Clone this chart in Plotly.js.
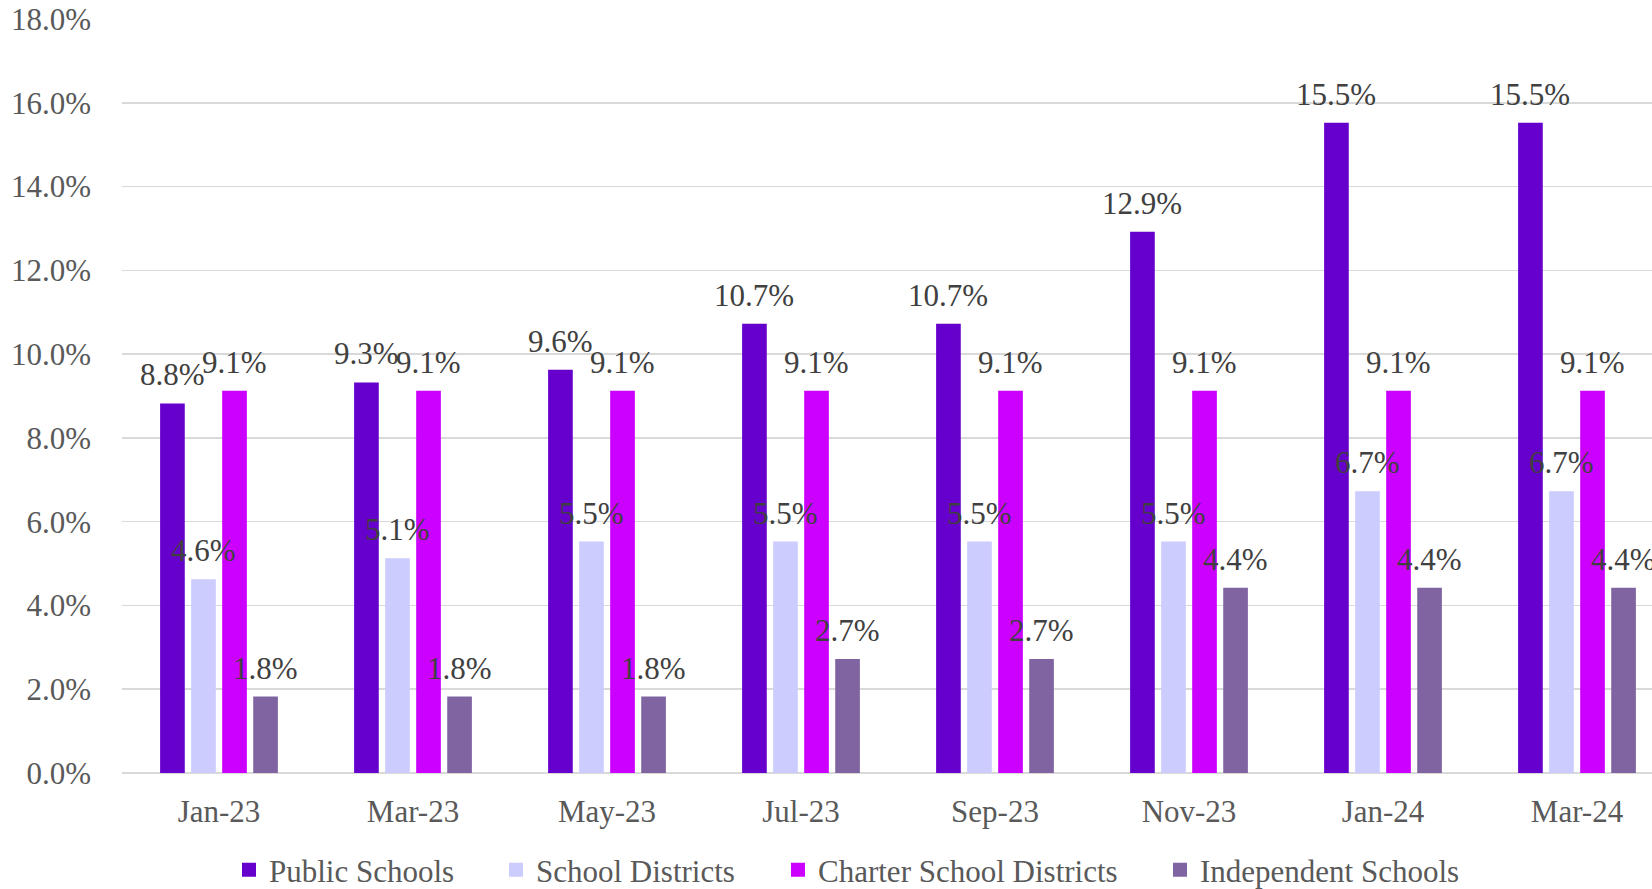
<!DOCTYPE html>
<html>
<head>
<meta charset="utf-8">
<script src="https://cdn.plot.ly/plotly-3.0.1.min.js"></script>
<style>html,body{margin:0;padding:0;background:#fff;}#chart{width:1652px;height:889px;}</style>
</head>
<body>
<div id="chart"></div>
<script>
const categories = ["Jan-23","Mar-23","May-23","Jul-23","Sep-23","Nov-23","Jan-24","Mar-24"];
const seriesNames = ["Public Schools","School Districts","Charter School Districts","Independent Schools"];
const publicSchools = [8.8, 9.3, 9.6, 10.7, 10.7, 12.9, 15.5, 15.5];
const schoolDistricts = [4.6, 5.1, 5.5, 5.5, 5.5, 5.5, 6.7, 6.7];
const charterSchoolDistricts = [9.1, 9.1, 9.1, 9.1, 9.1, 9.1, 9.1, 9.1];
const independentSchools = [1.8, 1.8, 1.8, 2.7, 2.7, 4.4, 4.4, 4.4];
const yTickValues = [0, 2, 4, 6, 8, 10, 12, 14, 16, 18];

const colors = ["#6600CC", "#CCCCFF", "#CC00FF", "#8064A2"];
const allSeries = [publicSchools, schoolDistricts, charterSchoolDistricts, independentSchools];

const W = 1652, H = 889;
const plotL = 122, plotR = 0, plotT = 19, plotB = 116;
const plotW = W - plotL - plotR;
const catPx = 194;
const xMax = plotW / catPx - 0.5;
const bargap = 0.36, bargroupgap = 0.27;
const slotPx = catPx * (1 - bargap) / allSeries.length;

const FONT = "Liberation Serif, Times New Roman, serif";
const FS = 31;
const legendMarkerLeft = [242, 509, 791, 1173];

const traces = allSeries.map((vals, i) => ({
  type: "bar",
  name: seriesNames[i],
  x: categories,
  y: vals,
  marker: {color: colors[i], line: {color: colors[i], width: 2}},
  legend: i === 0 ? "legend" : "legend" + (i + 1),
  hoverinfo: "x+y+name"
}));

const annotations = [];
allSeries.forEach((vals, i) => {
  const shift = (i - (allSeries.length - 1) / 2) * slotPx;
  vals.forEach((v, j) => {
    annotations.push({
      x: categories[j], y: v, xref: "x", yref: "y",
      text: v.toFixed(1) + "%",
      showarrow: false, yanchor: "bottom", xanchor: "center",
      xshift: shift, yshift: 10,
      font: {family: FONT, size: FS, color: "#404040"}
    });
  });
});

const layout = {
  width: W, height: H,
  margin: {l: plotL, r: plotR, t: plotT, b: plotB, pad: 0},
  paper_bgcolor: "#ffffff", plot_bgcolor: "#ffffff",
  barmode: "group", bargap: bargap, bargroupgap: bargroupgap,
  font: {family: FONT, size: FS, color: "#595959"},
  xaxis: {
    type: "category", range: [-0.5, xMax], showgrid: false, zeroline: false,
    showline: false, ticks: "", ticklabelstandoff: 17,
    tickfont: {family: FONT, size: FS, color: "#595959"}, fixedrange: true
  },
  yaxis: {
    range: [0, 18], tickvals: yTickValues, ticktext: yTickValues.map(v => v.toFixed(1) + "%"),
    showgrid: true, gridcolor: "#D9D9D9", gridwidth: 1.5,
    zeroline: true, zerolinecolor: "#D9D9D9", zerolinewidth: 1.5,
    showline: false, ticks: "", ticklabelstandoff: 30,
    tickfont: {family: FONT, size: FS, color: "#595959"}, fixedrange: true
  },
  annotations: annotations,
  showlegend: true
};
legendMarkerLeft.forEach((px, i) => {
  const key = i === 0 ? "legend" : "legend" + (i + 1);
  layout[key] = {
    orientation: "h", xref: "container", yref: "container",
    x: (px - 13) / W, y: 1 - 870 / H, xanchor: "left", yanchor: "middle",
    font: {family: FONT, size: FS, color: "#595959"},
    bgcolor: "rgba(0,0,0,0)", borderwidth: 0
  };
});

Plotly.newPlot("chart", traces, layout, {displayModeBar: false, staticPlot: true});
</script>
</body>
</html>
